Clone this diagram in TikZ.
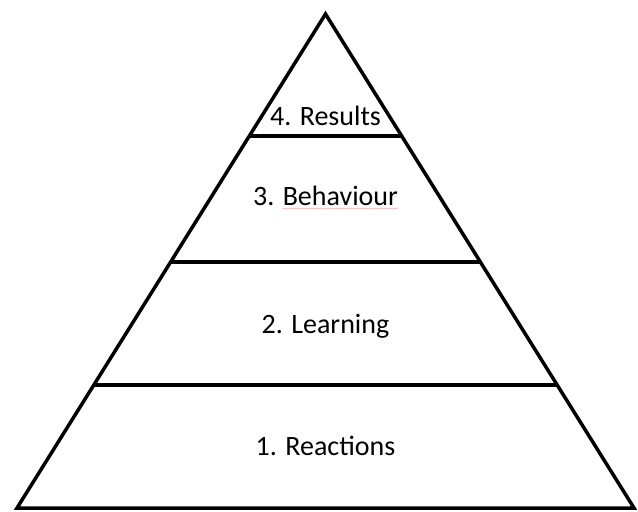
\documentclass[tikz,border=0pt]{standalone}
\usepackage{fontspec}
\setmainfont{Carlito}
\usetikzlibrary{calc,decorations.pathmorphing}

\begin{document}
\begin{tikzpicture}[x=1pt,y=-1pt,
    tier/.style={line width=3.5pt},
    tiertext/.style={anchor=base, inner sep=0pt, font=\fontsize{28}{34}\selectfont}]
  \useasboundingbox (0,0) rectangle (638,512);
  \coordinate (top) at (325.5,14);
  \coordinate (bl)  at (17,508);
  \coordinate (br)  at (634,508);
  \draw[tier, line join=miter] (top) -- (bl) -- (br) -- cycle;

  % Separating lines
  \foreach \y in {136,262,385}
    \draw[tier] ($(bl)!{(508-\y)/494}!(top)$) -- ($(br)!{(508-\y)/494}!(top)$);

  \node[tiertext] (results)   at (325.5,125) {4. Results};
  \node[tiertext] (behaviour) at (325.5,205) {3. Behaviour};
  \node[tiertext] (learning)  at (325.5,333) {2. Learning};
  \node[tiertext] (reactions) at (325.5,455.5) {1. Reactions};

  \draw[red!45, decorate, decoration={snake, amplitude=0.7pt, segment length=3pt}]
    (282,208.5) -- (behaviour.base east |- 0,208.5);
\end{tikzpicture}
\end{document}
